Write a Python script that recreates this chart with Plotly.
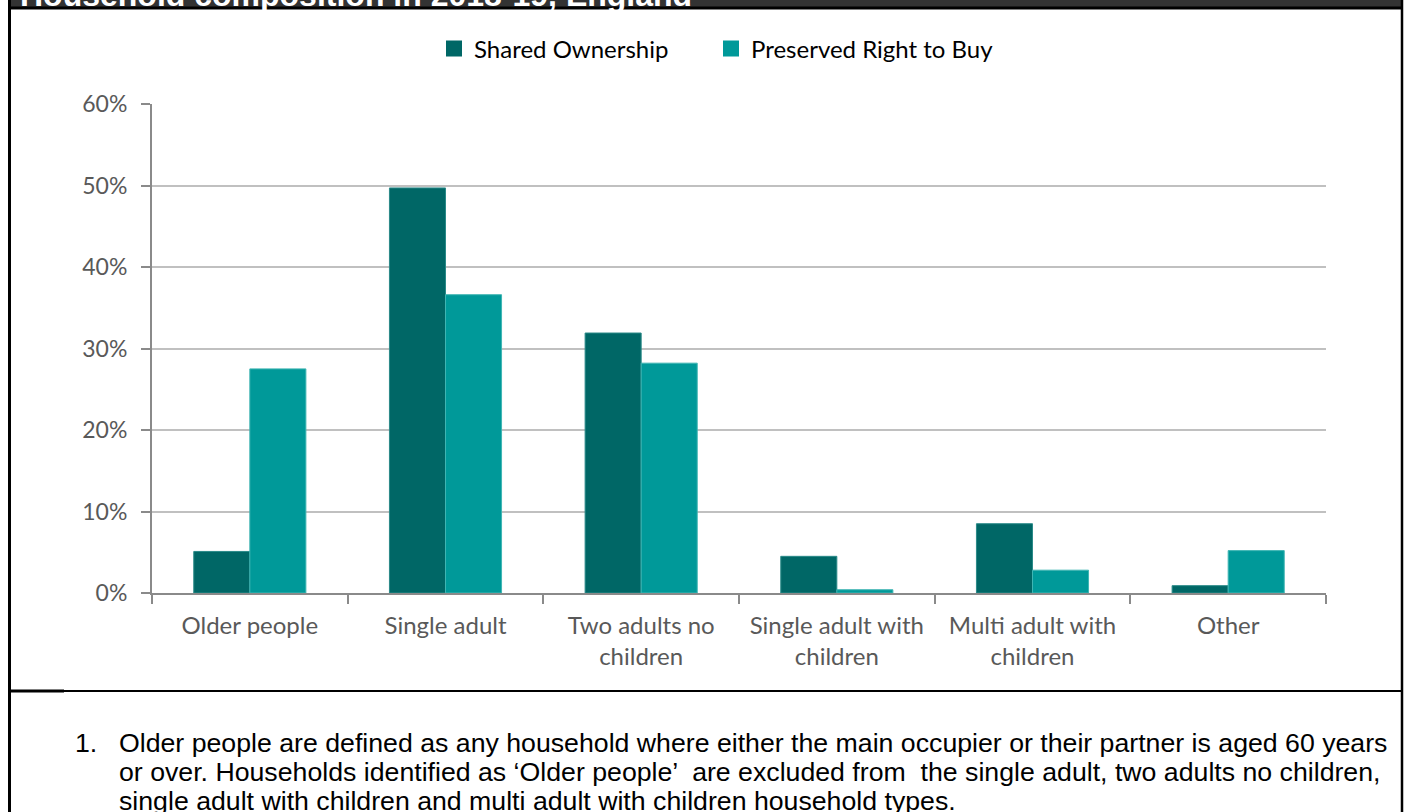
import plotly.graph_objects as go

categories = ["Older people", "Single adult", "Two adults no<br>children",
              "Single adult with<br>children", "Multi adult with<br>children", "Other"]
shared_ownership = [0.051, 0.497, 0.319, 0.045, 0.085, 0.009]
preserved_rtb = [0.275, 0.366, 0.282, 0.004, 0.028, 0.052]
series_names = ["Shared Ownership", "Preserved Right to Buy"]
series_colors = ["#006766", "#009999"]
title_text = "Household composition in 2018-19, England"
footnote_lines = [
    "Older people are defined as any household where either the main occupier or their partner is aged 60 years",
    "or over. Households identified as \u2018Older people\u2019  are excluded from  the single adult, two adults no children,",
    "single adult with children and multi adult with children household types.",
]

W, H = 1405, 812
L, R, T, B = 152, 1326, 104, 593


def px_x(x):
    return (x - L) / (R - L)


def px_y(y):
    return (B - y) / (B - T)


fig = go.Figure()
fig.add_trace(go.Bar(x=categories, y=shared_ownership, name=series_names[0], showlegend=False,
                     marker=dict(color=series_colors[0], line=dict(color="#2a8a88", width=1))))
fig.add_trace(go.Bar(x=categories, y=preserved_rtb, name=series_names[1], showlegend=False,
                     marker=dict(color=series_colors[1], line=dict(color="#3fb5b3", width=1))))
# legend entries with larger square swatches
for name, col in zip(series_names, series_colors):
    fig.add_trace(go.Scatter(x=[None], y=[None], mode="markers", name=name,
                             marker=dict(symbol="square", size=16, color=col), hoverinfo="skip"))
# invisible spacer entry so the last legend label is not clipped
fig.add_trace(go.Scatter(x=[None], y=[None], mode="markers", name=" ",
                         marker=dict(symbol="square", size=1, color="rgba(0,0,0,0)"),
                         hoverinfo="skip"))

fig.update_layout(
    width=W, height=H,
    margin=dict(l=L, r=W - R, t=T, b=H - B, pad=0),
    paper_bgcolor="white", plot_bgcolor="white",
    barmode="group", bargap=0.427, bargroupgap=0,
    font=dict(family="Lato, Open Sans, sans-serif", size=24, color="#595959"),
    showlegend=True,
    legend=dict(orientation="h", x=px_x(434), xanchor="left",
                y=px_y(49), yanchor="middle",
                font=dict(size=24, color="#000000", family="Lato, Open Sans, sans-serif"),
                itemwidth=30, traceorder="normal", bgcolor="rgba(0,0,0,0)",
                entrywidth=232, entrywidthmode="pixels"),
)
fig.update_yaxes(range=[0, 0.6], dtick=0.1, tickformat=".0%",
                 showgrid=True, gridcolor="#c0c0c0", gridwidth=2,
                 showline=True, linecolor="#8a8a8a", linewidth=2,
                 ticks="outside", ticklen=9, tickcolor="#8a8a8a", tickwidth=2,
                 zeroline=False, ticklabelstandoff=9,
                 tickfont=dict(size=23, color="#595959"))
fig.update_xaxes(showline=True, linecolor="#8a8a8a", linewidth=2,
                 ticks="outside", tickson="boundaries", ticklen=9,
                 tickcolor="#8a8a8a", tickwidth=2, ticklabelstandoff=10,
                 tickfont=dict(size=24, color="#595959"))

shapes = [
    dict(type="rect", xref="paper", yref="paper", x0=px_x(11), x1=px_x(1401),
         y0=px_y(-20), y1=px_y(7),
         fillcolor="#333333", line=dict(width=0), layer="below"),
    dict(type="line", xref="paper", yref="paper", x0=px_x(8), x1=px_x(1403),
         y0=px_y(8), y1=px_y(8), line=dict(color="black", width=3)),
    dict(type="line", xref="paper", yref="paper", x0=px_x(9.5), x1=px_x(9.5),
         y0=px_y(0), y1=px_y(812), line=dict(color="black", width=3)),
    dict(type="line", xref="paper", yref="paper", x0=px_x(1402), x1=px_x(1402),
         y0=px_y(0), y1=px_y(812), line=dict(color="black", width=2.5)),
    dict(type="line", xref="paper", yref="paper", x0=px_x(11), x1=px_x(64),
         y0=px_y(691), y1=px_y(691), line=dict(color="black", width=3)),
    dict(type="line", xref="paper", yref="paper", x0=px_x(64), x1=px_x(1401),
         y0=px_y(691), y1=px_y(691), line=dict(color="black", width=2.2)),
]
fig.update_layout(shapes=shapes)

fig.add_annotation(text="<b>" + title_text + "</b>", xref="paper", yref="paper",
                   x=px_x(18), y=px_y(-5), xanchor="left", yanchor="middle", showarrow=False,
                   font=dict(family="Liberation Sans, Arial, sans-serif", size=32, color="white"))
fig.add_annotation(text="1.", xref="paper", yref="paper",
                   x=px_x(73), y=px_y(743), xanchor="left", yanchor="middle", showarrow=False,
                   font=dict(family="Liberation Sans, Arial, sans-serif", size=26.7, color="black"))
for line_text, yc in zip(footnote_lines, [743, 772, 801]):
    fig.add_annotation(text=line_text, xref="paper", yref="paper", align="left",
                       x=px_x(117), y=px_y(yc), xanchor="left", yanchor="middle", showarrow=False,
                       font=dict(family="Liberation Sans, Arial, sans-serif", size=26.7, color="black"))

fig.write_html("out.html", config={"displayModeBar": False},
               post_script="document.body.style.margin='0px';document.body.style.overflow='hidden';")
